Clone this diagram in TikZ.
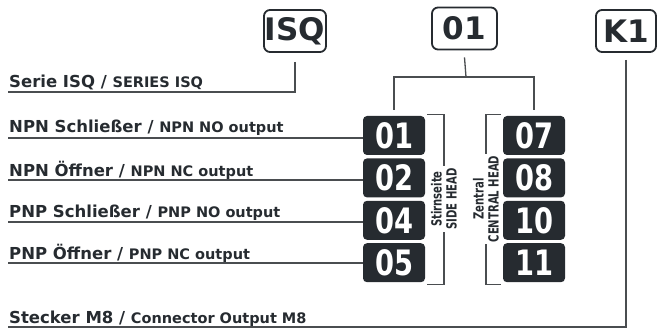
\documentclass[tikz,border=0pt]{standalone}
\usepackage{fontspec}
\setmainfont{DejaVu Sans}
\newfontfamily\condfont{DejaVu Sans}[FakeStretch=0.78]
\newfontfamily\headfont{DejaVu Sans}[FakeStretch=0.72]
\usepackage{tikz}
\usetikzlibrary{positioning}
\definecolor{ink}{HTML}{262B30}
\definecolor{wire}{HTML}{4A4D50}
\tikzset{
  codebox/.style={
    rectangle, rounded corners=6pt, draw=ink, line width=1.8pt, fill=white,
    minimum width=62pt, minimum height=42pt, inner sep=0pt,
    text=ink, font=\fontsize{31}{31}\selectfont\bfseries
  },
  numbox/.style={
    rectangle, rounded corners=4pt, fill=ink, draw=none,
    minimum width=62pt, minimum height=39pt, inner sep=0pt,
    text=white, font=\condfont\fontsize{35}{35}\selectfont\bfseries
  },
  label/.style={
    anchor=base west, inner sep=0pt, text=ink,
    font=\fontsize{16.5}{16}\selectfont\bfseries
  },
  headtext/.style={
    rotate=90, align=center, inner sep=2pt, text=ink,
    font=\headfont\fontsize{14}{15}\selectfont\bfseries
  },
  link/.style={draw=wire, line width=1.3pt}
}
\newcommand{\eng}[1]{{\fontsize{14.5}{14}\selectfont #1}}

\begin{document}
\begin{tikzpicture}[x=1pt, y=-1pt]
\useasboundingbox (0,0) rectangle (657,329);

% code blocks on top
\node[codebox] (isq) at (295,31) {ISQ};
\node[codebox, minimum width=65pt] (sel) at (464.5,28.5) {01};
\node[codebox, minimum width=60pt] (k1) at (626,31) {K1};

% output codes
\node[numbox] (b01) at (394,135.5) {01};
\node[numbox, below=3pt of b01] (b02) {02};
\node[numbox, below=3pt of b02] (b04) {04};
\node[numbox, below=3pt of b04] (b05) {05};
\node[numbox] (b07) at (534,135.5) {07};
\node[numbox, below=3pt of b07] (b08) {08};
\node[numbox, below=3pt of b08] (b10) {10};
\node[numbox, below=3pt of b10] (b11) {11};

% head labels
\node[headtext] (side) at (444,199) {Stirnseite\\SIDE HEAD};
\node[headtext] (central) at (486,199) {Zentral\\CENTRAL HEAD};

% left labels
\node[label] (serie) at (9,88) {Serie ISQ / \eng{SERIES ISQ}};
\node[label] (npnno) at (9,133) {NPN Schließer / \eng{NPN NO output}};
\node[label] (npnnc) at (9,176) {NPN Öffner / \eng{NPN NC output}};
\node[label] (pnpno) at (9,218) {PNP Schließer / \eng{PNP NO output}};
\node[label] (pnpnc) at (9,259) {PNP Öffner / \eng{PNP NC output}};
\node[label] (stecker) at (9,323) {Stecker M8 / \eng{Connector Output M8}};

\coordinate (serieL) at (8,92);
\coordinate (npnnoL) at (8,138);
\coordinate (npnncL) at (8,180);
\coordinate (pnpnoL) at (8,222);
\coordinate (pnpncL) at (8,263);
\coordinate (steckerL) at (8,327);
\coordinate (fork) at (466,77);

% connectors
\draw[link] ([yshift=-9pt]isq.south) |- (serieL);
\draw[link] ([yshift=-7pt]k1.south) |- (steckerL);
\draw[link] ([yshift=-7pt]sel.south) -- (fork);
\draw[link] ([yshift=6pt]b01.north) |- (fork) -| ([yshift=6pt]b07.north);
\draw[link] (npnnoL) -- (npnnoL -| b01.west);
\draw[link] (npnncL) -- (npnncL -| b02.west);
\draw[link] (pnpnoL) -- (pnpnoL -| b04.west);
\draw[link] (pnpncL) -- (pnpncL -| b05.west);

% brackets
\draw[link] ([xshift=2pt,yshift=1pt]b01.north east) -| (side.east);
\draw[link] ([xshift=2pt,yshift=-2pt]b05.south east) -| (side.west);
\draw[link] ([xshift=-2pt,yshift=1pt]b07.north west) -| (central.east);
\draw[link] ([xshift=-2pt,yshift=-2pt]b11.south west) -| (central.west);
\end{tikzpicture}
\end{document}
